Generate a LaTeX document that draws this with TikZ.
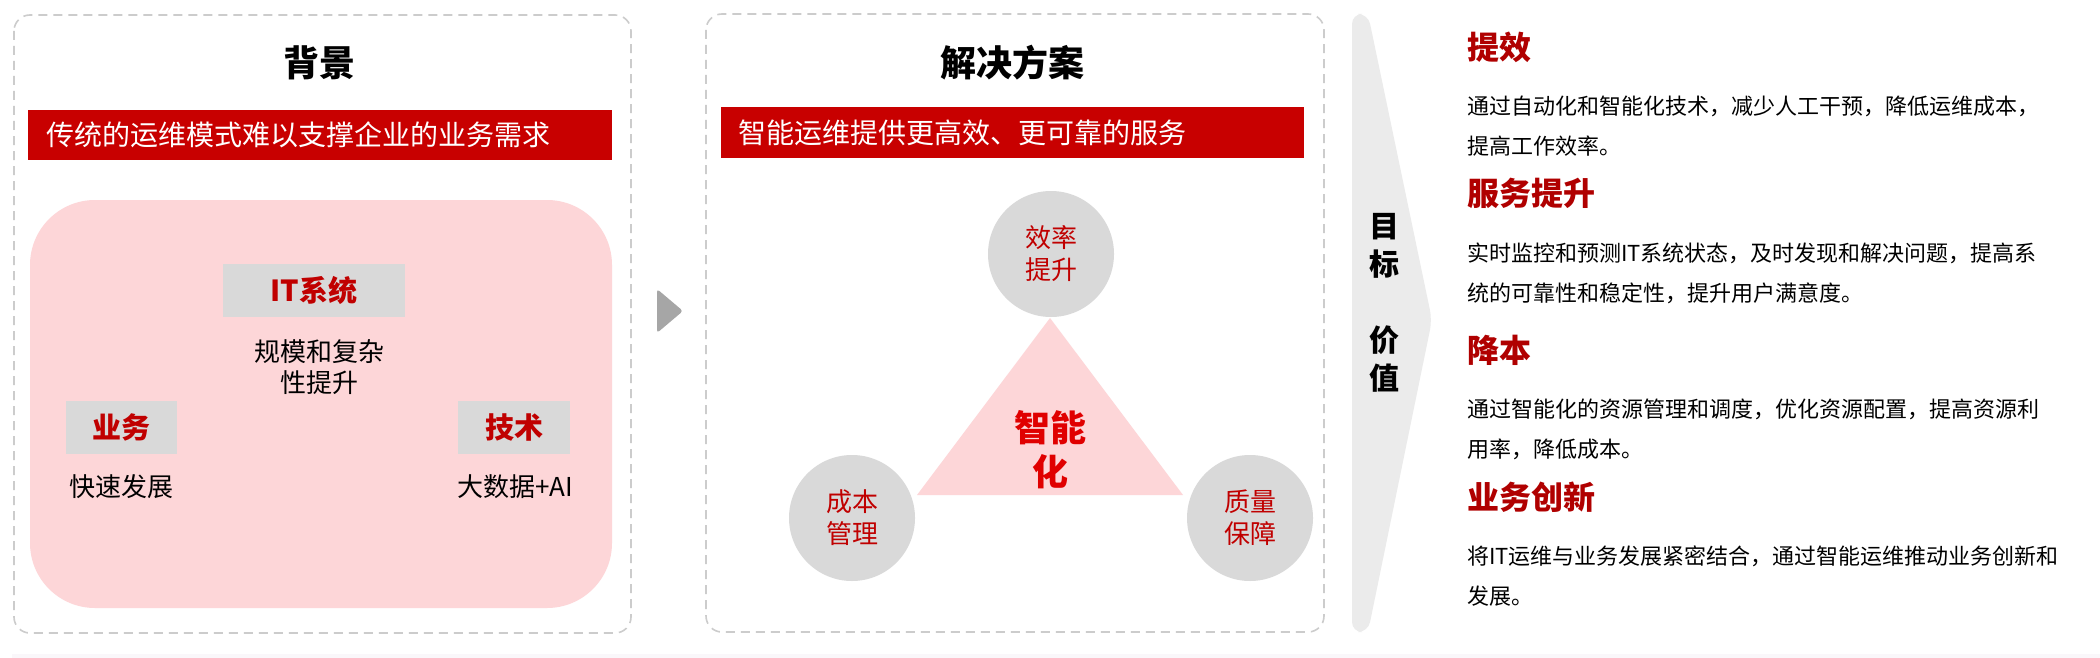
\documentclass[tikz,border=0pt]{standalone}
\usepackage{fontspec}
\setmainfont{Noto Sans CJK SC}
\definecolor{barred}{HTML}{C80000}
\definecolor{pinkfill}{HTML}{FDD6D8}
\definecolor{greybox}{HTML}{D9D9D9}
\definecolor{darkred}{HTML}{B00000}
\definecolor{circred}{HTML}{C00000}
\definecolor{brightred}{HTML}{E00000}
\definecolor{dashgrey}{HTML}{CCCCCC}
\definecolor{shapegrey}{HTML}{EBEBEB}
\definecolor{chevgrey}{HTML}{A6A6A6}
\definecolor{bandgrey}{HTML}{FAF7FA}
\begin{document}
\begin{tikzpicture}[x=1pt,y=-1pt,
  panel/.style={draw=dashgrey, line width=1.6pt, dash pattern=on 9pt off 6pt, rounded corners=16pt},
  title/.style={inner sep=0pt, font=\fontsize{36}{40}\selectfont\bfseries, text=black},
  redbar/.style={fill=barred, text=white, inner ysep=0pt, minimum height=50pt, align=left,
                 font=\fontsize{28}{32}\selectfont},
  greytag/.style={fill=greybox, text=circred, minimum height=53pt, inner sep=0pt,
                 font=\fontsize{29}{32}\selectfont\bfseries},
  plain/.style={inner sep=0pt, text=black, align=center, font=\fontsize{26}{31}\selectfont},
  circ/.style={circle, fill=greybox, minimum size=126pt, inner sep=0pt, text=circred, align=center,
               font=\fontsize{26}{32}\selectfont},
  vert/.style={inner sep=0pt, align=center, font=\fontsize{30}{38}\selectfont\bfseries},
  head/.style={inner sep=0pt, anchor=west, text=darkred, font=\fontsize{32}{36}\selectfont\bfseries},
  body/.style={inner sep=0pt, anchor=west, align=left, text=black, font=\fontsize{22}{40}\selectfont}
]
\useasboundingbox (0,0) rectangle (2100,658);
\fill[white] (0,0) rectangle (2100,658);
\fill[bandgrey] (12,654) rectangle (2100,658);

% panels
\draw[panel] (14,15) rectangle (631,633);
\draw[panel] (706,14) rectangle (1324,632);

% left panel
\node[title] (t1) at (319,63) {背景};
\node[redbar, text width=548pt, inner xsep=18pt] (bar1) at (320,135) {传统的运维模式难以支撑企业的业务需求};
\node[fill=pinkfill, rounded corners=65pt, minimum width=582pt, minimum height=408pt, inner sep=0pt] (bg) at (321,404) {};
\node[greytag, minimum width=182pt] (it) at (314,290) {IT系统};
\node[plain] (itd) at (319,367) {规模和复杂\\性提升};
\node[greytag, minimum width=111pt] (yw) at (121,427) {业务};
\node[plain] (ywd) at (121,487) {快速发展};
\node[greytag, minimum width=112pt] (js) at (514,427) {技术};
\node[plain] (jsd) at (515,487) {大数据+AI};

% chevron
\fill[chevgrey, rounded corners=3pt] (657,289) -- (683,311) -- (657,333) -- cycle;

% middle panel
\node[title] (t2) at (1012,63) {解决方案};
\node[redbar, text width=549pt, inner xsep=17pt] (bar2) at (1012.5,132.5) {智能运维提供更高效、更可靠的服务};
\fill[pinkfill] (1050,318) -- (917,495) -- (1183,495) -- cycle;
\node[circ] (c1) at (1051,254) {效率\\提升};
\node[circ] (c2) at (852,518) {成本\\管理};
\node[circ] (c3) at (1250,518) {质量\\保障};
\node[inner sep=0pt, align=center, text=brightred, font=\fontsize{36}{44}\selectfont\bfseries] (zn) at (1050,450) {智能\\化};

% right value shape
\fill[shapegrey, rounded corners=10pt] (1352,632) -- (1352,14) -- (1368,14) -- (1432,320) -- (1368,632) -- cycle;
\node[vert] (v1) at (1384,246) {目\\标};
\node[vert] (v2) at (1384,359) {价\\值};

% right texts
\node[head] (h1) at (1467,47) {提效};
\node[body] (b1) at (1467,126) {通过自动化和智能化技术，减少人工干预，降低运维成本，\\提高工作效率。};
\node[head] (h2) at (1467,193) {服务提升};
\node[body] (b2) at (1467,273) {实时监控和预测IT系统状态，及时发现和解决问题，提高系\\统的可靠性和稳定性，提升用户满意度。};
\node[head] (h3) at (1467,350) {降本};
\node[body] (b3) at (1467,429) {通过智能化的资源管理和调度，优化资源配置，提高资源利\\用率，降低成本。};
\node[head] (h4) at (1467,497) {业务创新};
\node[body] (b4) at (1467,576) {将IT运维与业务发展紧密结合，通过智能运维推动业务创新和\\发展。};
\end{tikzpicture}
\end{document}
